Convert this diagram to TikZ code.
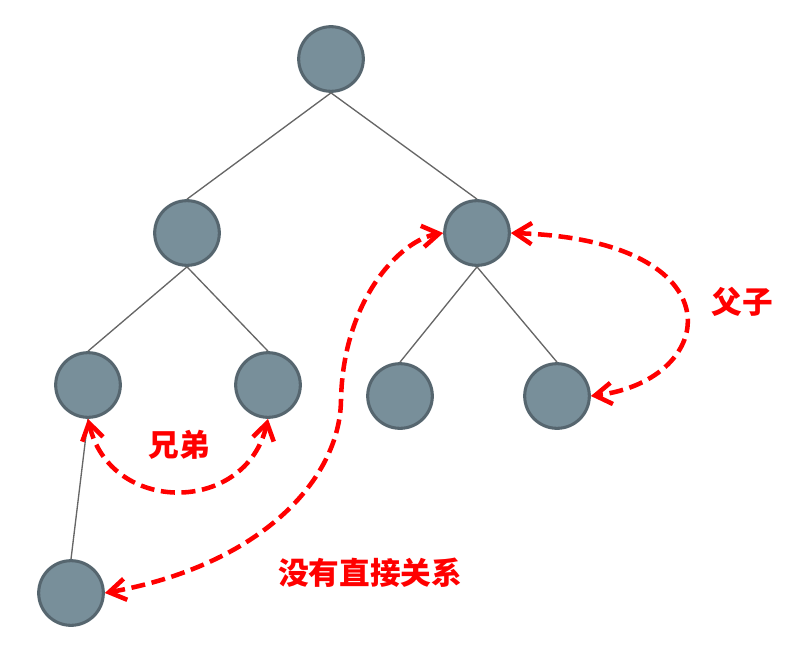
\documentclass[tikz,border=0pt]{standalone}
\usepackage{fontspec}
\newfontfamily\cjk{Noto Sans CJK SC}
\usetikzlibrary{arrows.meta}
\definecolor{nodefill}{HTML}{788F9A}
\definecolor{nodeedge}{HTML}{56666F}
\definecolor{edgegray}{HTML}{666666}
\begin{document}
\begin{tikzpicture}[x=0.75pt,y=-0.75pt,
  tnode/.style={circle,draw=nodeedge,fill=nodefill,line width=2.3pt,minimum size=48.5pt,inner sep=0pt},
  tedge/.style={draw=edgegray,line width=1pt},
  rel/.style={draw=red,line width=3.4pt,dash pattern=on 10.5pt off 5pt,line cap=butt,
    {Straight Barb[length=12.5pt,width=16pt,line width=3.4pt]}-{Straight Barb[length=12.5pt,width=16pt,line width=3.4pt]}},
  lbl/.style={text=red,font=\cjk\bfseries\fontsize{23pt}{25pt}\selectfont,inner sep=0pt}]
\useasboundingbox (0,0) rectangle (802,646);
\node[tnode] (root) at (331,59) {};
\node[tnode] (l1) at (187,233) {};
\node[tnode] (r1) at (477,233) {};
\node[tnode] (ll) at (88,385) {};
\node[tnode] (lr) at (268,385) {};
\node[tnode] (rl) at (400,396) {};
\node[tnode] (rr) at (557,396) {};
\node[tnode] (bot) at (71,593) {};
\path[tedge] (root.south) -- (l1.north);
\path[tedge] (root.south) -- (r1.north);
\path[tedge] (l1.south) -- (ll.north);
\path[tedge] (l1.south) -- (lr.north);
\path[tedge] (r1.south) -- (rl.north);
\path[tedge] (r1.south) -- (rr.north);
\path[tedge] (ll.south) -- (bot.north);
\draw[rel] (ll.south) .. controls (110,515) and (246,515) .. (lr.south);
\draw[rel] (r1.east) .. controls (740,240) and (720,380) .. (rr.east);
\draw[rel] (bot.east) .. controls (260,565) and (340,480) .. (341,400) .. controls (343,300) and (400,240) .. (r1.west);
\node[lbl] (t1) at (179,445) {兄弟};
\node[lbl] (t2) at (742,302) {父子};
\node[lbl] (t3) at (370,573) {没有直接关系};
\end{tikzpicture}
\end{document}
